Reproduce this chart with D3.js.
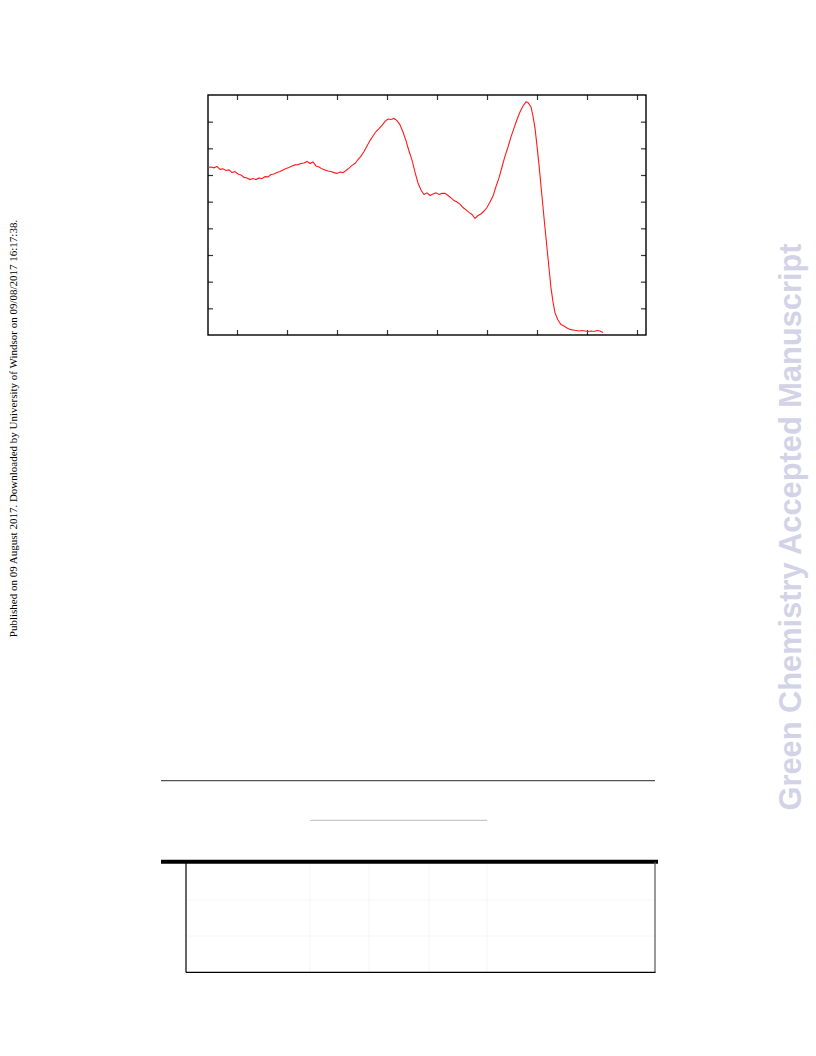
<!DOCTYPE html>
<html><head><meta charset="utf-8">
<script src="https://cdn.jsdelivr.net/npm/d3@7"></script>
<style>html,body{margin:0;padding:0;background:#fff;}svg{display:block;}</style>
</head><body>
<script>
// Data (x: wavelength-like units, y: intensity in arbitrary units)
const xValues = [221,224,227,230,233,236,239,242,245,248,251,254,257,260,263,266,269,272,275,278,281,284,287,290,293,296,299,302,305,308,311,314,317,320,323,326,329,332,335,338,341,344,347,350,353,356,359,362,365,368,371,374,377,380,383,386,389,392,395,398,401,404,407,410,413,416,419,422,425,428,431,434,437,440,443,446,449,452,455,458,461,464,467,470,473,476,479,482,485,488,491,494,497,500,503,506,509,512,515,518,521,524,527,530,533,536,539,541,544,546,548,550,552,554,556,558,560,562,564,566,568,571,574,577,580,583,586,589,592,595,598,601,604,607,610,613,616];
const yValues = [62.8,63.0,62.7,63.2,62.1,62.3,61.7,61.9,60.9,61.3,60.4,60.0,59.1,58.9,58.3,58.7,58.3,58.9,58.6,59.4,59.3,60.2,60.4,60.9,61.3,61.9,62.4,62.8,63.4,63.8,63.9,64.3,64.5,65.1,64.3,64.9,63.4,63.0,62.3,61.9,61.5,61.3,60.9,60.6,61.1,60.9,61.7,62.6,63.6,64.3,65.8,67.1,68.8,70.9,72.9,74.6,76.3,77.4,78.6,80.1,81.0,80.8,81.2,80.4,78.8,76.1,72.8,69.0,65.6,61.1,57.0,54.4,52.7,53.3,52.3,52.9,53.3,52.7,53.1,53.1,52.3,51.4,50.4,49.9,49.1,47.8,46.9,46.0,45.2,43.7,44.8,45.4,46.5,47.8,49.9,52.1,55.7,58.9,63.0,67.1,70.5,74.3,77.6,80.8,83.6,85.9,87.4,87.2,85.5,82.1,77.6,70.9,63.8,55.9,48.0,40.1,32.6,25.1,17.6,12.4,8.3,5.6,3.9,3.4,2.6,2.1,1.9,1.7,1.5,1.7,1.5,1.3,1.5,1.3,1.7,1.5,0.9];
const xTicks = [250,300,350,400,450,500,550,600,650];
const yTicks = [10,20,30,40,50,60,70,80];
const xDomain = [221,659];
const yDomain = [0,90];
const leftNote = "Published on 09 August 2017. Downloaded by University of Windsor on 09/08/2017 16:17:38.";
const rightNote = "Green Chemistry Accepted Manuscript";

const W = 816, H = 1056;
const m = {left:208, right:646, top:95, bottom:335};
const svg = d3.select("body").append("svg").attr("width",W).attr("height",H);

const x = d3.scaleLinear().domain(xDomain).range([m.left,m.right]);
const y = d3.scaleLinear().domain(yDomain).range([m.bottom,m.top]);

function styleAxis(g){
  g.select(".domain").remove();
  g.selectAll(".tick line").attr("stroke","#333").attr("stroke-width",1.2);
}
svg.append("g").attr("transform",`translate(0,${m.bottom})`)
  .call(d3.axisBottom(x).tickValues(xTicks).tickSize(-5).tickFormat("")).call(styleAxis);
svg.append("g").attr("transform",`translate(0,${m.top})`)
  .call(d3.axisTop(x).tickValues(xTicks).tickSize(-5).tickFormat("")).call(styleAxis);
svg.append("g").attr("transform",`translate(${m.left},0)`)
  .call(d3.axisLeft(y).tickValues(yTicks).tickSize(-5).tickFormat("")).call(styleAxis);
svg.append("g").attr("transform",`translate(${m.right},0)`)
  .call(d3.axisRight(y).tickValues(yTicks).tickSize(-5).tickFormat("")).call(styleAxis);

svg.append("rect").attr("x",m.left).attr("y",m.top)
  .attr("width",m.right-m.left).attr("height",m.bottom-m.top)
  .attr("fill","none").attr("stroke","#000").attr("stroke-width",1.4);

const data = xValues.map((v,i)=>[v,yValues[i]]);
svg.append("path").datum(data)
  .attr("fill","none").attr("stroke","#ff1a1a").attr("stroke-width",1.1)
  .attr("d", d3.line().x(d=>x(d[0])).y(d=>y(d[1])));

// side notes
svg.append("text").attr("transform","translate(17,428.5) rotate(-90)")
  .attr("text-anchor","middle").attr("font-family","Liberation Serif, Times New Roman, serif")
  .attr("font-size",11).attr("fill","#000").text(leftNote);
svg.append("text").attr("transform","translate(801,527) rotate(-90)")
  .attr("text-anchor","middle").attr("font-family","Liberation Sans, Arial, sans-serif")
  .attr("font-weight","bold").attr("font-size",30.8).attr("fill","#d3d3e8").text(rightNote);

// table rules at bottom
const tg = svg.append("g");
tg.append("line").attr("x1",161).attr("x2",655).attr("y1",780.7).attr("y2",780.7).attr("stroke","#555").attr("stroke-width",1.3);
tg.append("line").attr("x1",310).attr("x2",487).attr("y1",820.3).attr("y2",820.3).attr("stroke","#aaa").attr("stroke-width",0.8);
[310,369,429,487].forEach(v=>{
  tg.append("line").attr("x1",v).attr("x2",v).attr("y1",862).attr("y2",972).attr("stroke","#f2f2f2").attr("stroke-width",0.8);
});
[900,936].forEach(v=>{
  tg.append("line").attr("x1",186).attr("x2",655).attr("y1",v).attr("y2",v).attr("stroke","#f4f4f4").attr("stroke-width",0.8);
});
tg.append("line").attr("x1",161).attr("x2",658).attr("y1",861.7).attr("y2",861.7).attr("stroke","#000").attr("stroke-width",4);
tg.append("line").attr("x1",186).attr("x2",186).attr("y1",862).attr("y2",972.5).attr("stroke","#000").attr("stroke-width",1.2);
tg.append("line").attr("x1",655).attr("x2",655).attr("y1",862).attr("y2",972.5).attr("stroke","#555").attr("stroke-width",1.2);
tg.append("line").attr("x1",186).attr("x2",655.5).attr("y1",972.3).attr("y2",972.3).attr("stroke","#000").attr("stroke-width",1.2);
</script>
</body></html>
